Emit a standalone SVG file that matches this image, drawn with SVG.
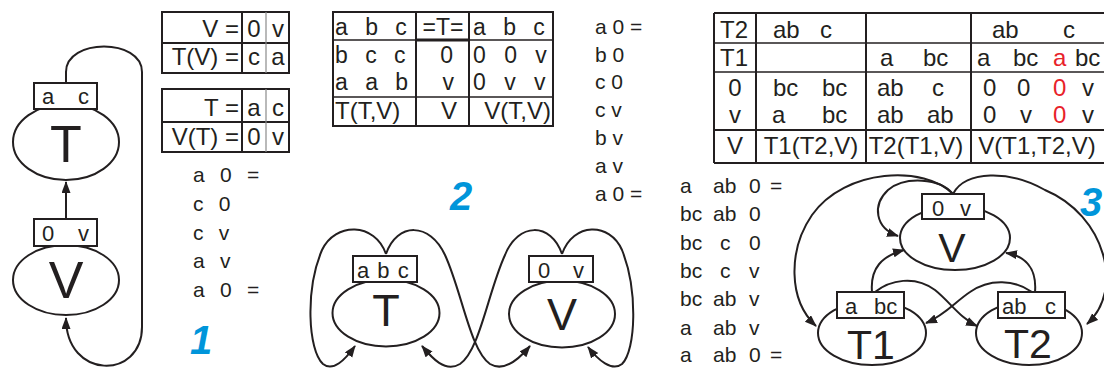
<svg xmlns="http://www.w3.org/2000/svg" width="1104" height="368" viewBox="0 0 1104 368">
<style>
.ln{stroke:#231f20;stroke-width:2;fill:none}
.thin{stroke:#8a8a8a;stroke-width:1.2;fill:none}
.box{stroke:#231f20;stroke-width:2;fill:#fff}
.ell{stroke:#231f20;stroke-width:2;fill:#fff}
.t{font-family:"Liberation Sans",Arial,sans-serif;fill:#231f20}
.tb{font-size:24px}
.tm{font-size:23px}
.sm{font-size:21px}
.bl{font-size:22px}
.big{font-size:52px}
.mid{font-size:45px}
.r3{font-size:41px}
.num{font-family:"Liberation Sans",Arial,sans-serif;font-weight:bold;font-style:italic;font-size:40px;fill:#0095da}
.red{fill:#e8222a}
.c{text-anchor:middle}
.e{text-anchor:end}
</style>
<defs>
<marker id="ah" markerUnits="userSpaceOnUse" markerWidth="13" markerHeight="10" refX="11" refY="4.5" orient="auto">
<path d="M0,0 L12,4.5 L0,9 Z" fill="#231f20"/>
</marker>
</defs>
<rect width="1104" height="368" fill="#fff"/>

<!-- connectors -->
<g id="connectors">
<path class="ln" d="M66,83 L66,72 C66,38 142,38 142,72 L142,327 C142,380 66,380 66,318" marker-end="url(#ah)"/>
<path class="ln" d="M66,219 L66,182" marker-end="url(#ah)"/>
<path class="ln" d="M386,254 C375,222 335,222 322,250 C305,290 308,350 323,364 C333,372 345,360 355,346" marker-end="url(#ah)"/>
<path class="ln" d="M386,254 C397,222 430,222 445,255 C462,292 470,350 490,364 C505,373 520,358 530,346" marker-end="url(#ah)"/>
<path class="ln" d="M562,254 C551,222 518,222 505,255 C488,292 480,350 460,364 C445,373 432,358 422,346" marker-end="url(#ah)"/>
<path class="ln" d="M562,254 C573,222 610,222 622,250 C638,290 636,350 622,364 C612,372 598,360 588,347" marker-end="url(#ah)"/>
<path class="ln" d="M953,194 C925,165 845,168 812,215 C788,250 788,300 816,326" marker-end="url(#ah)"/>
<path class="ln" d="M953,194 C940,178 905,176 888,190 C872,205 875,228 898,236" marker-end="url(#ah)"/>
<path class="ln" d="M953,194 C965,170 1010,170 1045,190 C1105,215 1125,290 1087,324" marker-end="url(#ah)"/>
<path class="ln" d="M872,292 C870,268 882,256 904,250" marker-end="url(#ah)"/>
<path class="ln" d="M875,292 C890,280 915,275 935,290 C950,302 960,318 977,326" marker-end="url(#ah)"/>
<path class="ln" d="M1035,292 C1037,268 1025,256 1006,253" marker-end="url(#ah)"/>
<path class="ln" d="M1032,292 C1015,280 990,278 970,292 C955,302 945,315 926,323" marker-end="url(#ah)"/>
</g>

<!-- graph 1 -->
<g id="g1-T">
<ellipse class="ell" cx="66" cy="142" rx="53" ry="38"/>
<rect class="box" x="34" y="83" width="63" height="26"/>
<text class="t bl" x="42" y="104">a</text><text class="t bl" x="78" y="104">c</text>
<text class="t big c" x="66" y="162">T</text>
</g>
<g id="g1-V">
<ellipse class="ell" cx="66" cy="280" rx="53" ry="35"/>
<rect class="box" x="34" y="219" width="63" height="27"/>
<text class="t bl" x="42" y="241">0</text><text class="t bl" x="78" y="241">v</text>
<text class="t big c" x="66" y="298">V</text>
</g>

<!-- tables 1 -->
<g id="table1a">
<rect class="ln" x="162" y="12" width="127" height="61"/>
<line class="ln" x1="162" y1="43" x2="289" y2="43"/>
<line class="ln" x1="242" y1="12" x2="242" y2="73"/>
<line class="thin" x1="266" y1="12" x2="266" y2="73"/>
<text class="t tb e" x="239" y="37">V =</text>
<text class="t tb c" x="254" y="37">0</text><text class="t tb c" x="278" y="37">v</text>
<text class="t tb e" x="239" y="65">T(V) =</text>
<text class="t tb c" x="254" y="65">c</text><text class="t tb c" x="278" y="65">a</text>
</g>
<g id="table1b">
<rect class="ln" x="162" y="89" width="127" height="63"/>
<line class="ln" x1="162" y1="122" x2="289" y2="122"/>
<line class="ln" x1="242" y1="89" x2="242" y2="152"/>
<line class="thin" x1="266" y1="89" x2="266" y2="152"/>
<text class="t tb e" x="239" y="116">T =</text>
<text class="t tb c" x="254" y="116">a</text><text class="t tb c" x="278" y="116">c</text>
<text class="t tb e" x="239" y="145">V(T) =</text>
<text class="t tb c" x="254" y="145">0</text><text class="t tb c" x="278" y="145">v</text>
</g>
<g id="seq1" class="t sm" word-spacing="9.5">
<text x="193" y="182">a 0 =</text>
<text x="193" y="211">c 0</text>
<text x="193" y="240">c v</text>
<text x="193" y="268">a v</text>
<text x="193" y="297">a 0 =</text>
</g>
<text class="num" x="190" y="354">1</text>

<!-- table 2 -->
<g id="table2">
<rect class="ln" x="333" y="12" width="220" height="114"/>
<line class="ln" x1="416" y1="12" x2="416" y2="126"/>
<line class="ln" x1="469" y1="12" x2="469" y2="126"/>
<line class="ln" x1="333" y1="40" x2="553" y2="40" style="stroke-width:1.5"/>
<line class="ln" x1="416" y1="40" x2="469" y2="40" style="stroke-width:3"/>
<line class="ln" x1="333" y1="97" x2="553" y2="97" style="stroke-width:1.5"/>
<g class="t tm" word-spacing="11">
<text x="335" y="35">a b c</text>
<text x="335" y="63">b c c</text>
<text x="335" y="90">a a b</text>
<text x="473" y="35">a b c</text>
</g>
<g class="t tm" word-spacing="12">
<text x="473" y="63">0 0 v</text>
<text x="473" y="90">0 v v</text>
</g>
<text class="t tm c" x="443" y="35">=T=</text>
<text class="t tm e" x="453" y="63">0</text>
<text class="t tm e" x="454" y="90">v</text>
<text class="t tb" x="335" y="119">T(T,V)</text>
<text class="t tb e" x="457" y="119">V</text>
<text class="t tb e" x="551" y="119">V(T,V)</text>
</g>
<text class="num" x="450" y="210">2</text>

<!-- graph 2 -->
<g id="g2-T">
<ellipse class="ell" cx="386" cy="313" rx="53.5" ry="33.5"/>
<rect class="box" x="353" y="256" width="64" height="26"/>
<text class="t bl" x="357" y="278" word-spacing="2">a b c</text>
<text class="t mid c" x="386" y="326">T</text>
</g>
<g id="g2-V">
<ellipse class="ell" cx="562" cy="314" rx="53" ry="33.5"/>
<rect class="box" x="529" y="256" width="64" height="26"/>
<text class="t bl" x="538" y="278">0</text><text class="t bl" x="573" y="278">v</text>
<text class="t mid c" x="562" y="330">V</text>
</g>

<g id="seq2" class="t sm">
<text x="595" y="34">a 0 =</text>
<text x="595" y="62">b 0</text>
<text x="595" y="89">c 0</text>
<text x="595" y="117">c v</text>
<text x="595" y="145">b v</text>
<text x="595" y="173">a v</text>
<text x="595" y="201">a 0 =</text>
</g>

<!-- table 3 -->
<g id="table3">
<line class="ln" x1="714" y1="13" x2="1104" y2="13"/>
<line class="ln" x1="714" y1="163" x2="1104" y2="163"/>
<line class="ln" x1="714" y1="13" x2="714" y2="163"/>
<line class="ln" x1="756" y1="13" x2="756" y2="163"/>
<line class="ln" x1="866" y1="13" x2="866" y2="163"/>
<line class="ln" x1="971" y1="13" x2="971" y2="163"/>
<line class="ln" x1="714" y1="43" x2="1104" y2="43" style="stroke-width:1.5"/>
<line class="ln" x1="714" y1="72" x2="1104" y2="72" style="stroke-width:1.5"/>
<line class="ln" x1="714" y1="130" x2="1104" y2="130"/>
<g class="t tb">
<text class="c" x="734" y="38">T2</text>
<text><tspan x="773" y="38">ab</tspan> <tspan x="820" y="38">c</tspan></text>
<text><tspan x="992" y="38">ab</tspan> <tspan x="1063" y="38">c</tspan></text>
<text class="c" x="734" y="66">T1</text>
<text><tspan x="880" y="66">a</tspan> <tspan x="923" y="66">bc</tspan></text>
<text><tspan x="977" y="66">a</tspan> <tspan x="1013" y="66">bc</tspan> <tspan x="1053" y="66" class="red">a</tspan> <tspan x="1075" y="66">bc</tspan></text>
<text class="c" x="735" y="96">0</text>
<text><tspan x="773" y="96">bc</tspan> <tspan x="822" y="96">bc</tspan></text>
<text><tspan x="877" y="96">ab</tspan> <tspan x="932" y="96">c</tspan></text>
<text><tspan x="983" y="96">0</tspan> <tspan x="1017" y="96">0</tspan> <tspan x="1053" y="96" class="red">0</tspan> <tspan x="1082" y="96">v</tspan></text>
<text class="c" x="735" y="123">v</text>
<text><tspan x="772" y="123">a</tspan> <tspan x="822" y="123">bc</tspan></text>
<text><tspan x="877" y="123">ab</tspan> <tspan x="927" y="123">ab</tspan></text>
<text><tspan x="983" y="123">0</tspan> <tspan x="1020" y="123">v</tspan> <tspan x="1053" y="123" class="red">0</tspan> <tspan x="1082" y="123">v</tspan></text>
<text class="c" x="735" y="154">V</text>
<text class="c" x="811" y="154">T1(T2,V)</text>
<text class="c" x="916" y="154">T2(T1,V)</text>
<text class="c" x="1037" y="154">V(T1,T2,V)</text>
</g>
</g>

<g id="seq3" class="t sm">
<text><tspan x="680" y="193">a</tspan> <tspan x="713" y="193">ab</tspan> <tspan x="749" y="193">0</tspan> <tspan x="770" y="193">=</tspan></text>
<text><tspan x="680" y="221">bc</tspan> <tspan x="713" y="221">ab</tspan> <tspan x="749" y="221">0</tspan></text>
<text><tspan x="680" y="250">bc</tspan> <tspan x="720" y="250">c</tspan> <tspan x="749" y="250">0</tspan></text>
<text><tspan x="680" y="278">bc</tspan> <tspan x="720" y="278">c</tspan> <tspan x="749" y="278">v</tspan></text>
<text><tspan x="680" y="306">bc</tspan> <tspan x="713" y="306">ab</tspan> <tspan x="749" y="306">v</tspan></text>
<text><tspan x="680" y="335">a</tspan> <tspan x="713" y="335">ab</tspan> <tspan x="749" y="335">v</tspan></text>
<text><tspan x="680" y="362">a</tspan> <tspan x="713" y="362">ab</tspan> <tspan x="749" y="362">0</tspan> <tspan x="770" y="362">=</tspan></text>
</g>
<text class="num" x="1080" y="216">3</text>

<!-- graph 3 -->
<g id="g3-V">
<ellipse class="ell" cx="955" cy="238" rx="55" ry="32"/>
<rect class="box" x="922" y="194" width="62" height="25"/>
<text class="t bl" x="932" y="216">0</text><text class="t bl" x="960" y="216">v</text>
<text class="t r3 c" x="952" y="262">V</text>
</g>
<g id="g3-T1">
<ellipse class="ell" cx="872" cy="333" rx="54" ry="32"/>
<rect class="box" x="837" y="292" width="67" height="26"/>
<text class="t bl" x="845" y="314">a</text><text class="t bl" x="874" y="314">bc</text>
<text class="t r3 c" x="871" y="359">T1</text>
</g>
<g id="g3-T2">
<ellipse class="ell" cx="1029" cy="333" rx="53" ry="32"/>
<rect class="box" x="998" y="292" width="67" height="26"/>
<text class="t bl" x="1002" y="314">ab</text><text class="t bl" x="1045" y="314">c</text>
<text class="t r3 c" x="1028" y="358">T2</text>
</g>
</svg>
